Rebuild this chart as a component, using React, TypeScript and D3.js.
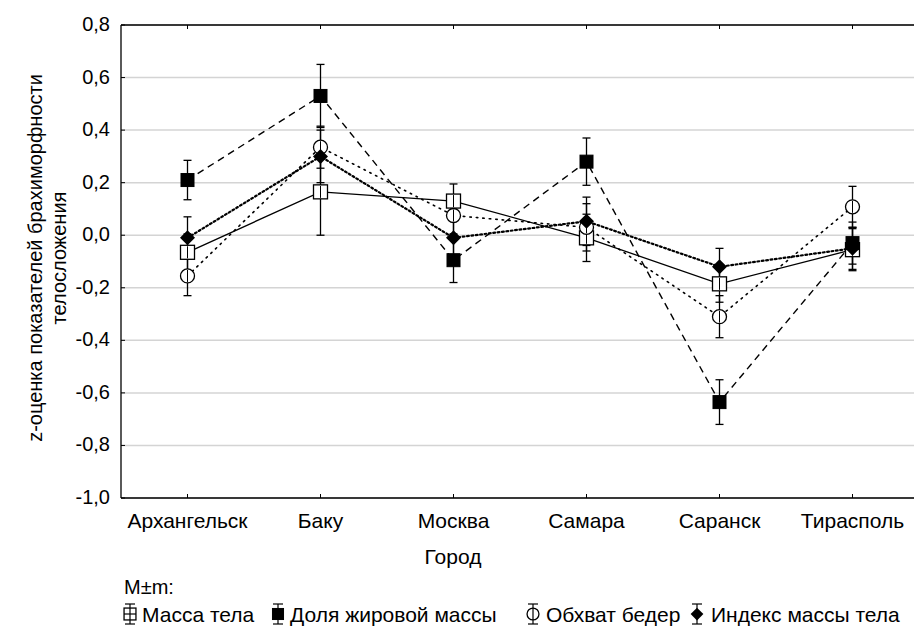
import React from "react";
import * as d3 from "d3";

const cities = ["Архангельск", "Баку", "Москва", "Самара", "Саранск", "Тирасполь"];
const yTicks = [0.8, 0.6, 0.4, 0.2, 0.0, -0.2, -0.4, -0.6, -0.8, -1.0];

const massaMean = [-0.065, 0.165, 0.13, -0.01, -0.185, -0.055];
const massaSE = [0.07, 0.165, 0.065, 0.09, 0.07, 0.08];
const dolyaMean = [0.21, 0.53, -0.095, 0.28, -0.635, -0.03];
const dolyaSE = [0.075, 0.12, 0.085, 0.09, 0.085, 0.08];
const obkhvatMean = [-0.155, 0.335, 0.075, 0.03, -0.31, 0.108];
const obkhvatSE = [0.075, 0.08, 0.07, 0.09, 0.08, 0.078];
const indeksMean = [-0.01, 0.3, -0.01, 0.053, -0.12, -0.05];
const indeksSE = [0.08, 0.1, 0.07, 0.092, 0.07, 0.08];

const seriesNames = ["Масса тела", "Доля жировой массы", "Обхват бедер", "Индекс массы тела"];

const W = 914, H = 626;
const left = 121, top = 25, bottom = 498;
const step = 133;
const right = left + step * 6;

const FONT = "Liberation Sans";

type Marker = "osq" | "fsq" | "circ" | "diam";

function MarkerShape({ kind, x, y, s = 1 }: { kind: Marker; x: number; y: number; s?: number }) {
  if (kind === "osq") {
    const h = 7 * s;
    return <rect x={x - h} y={y - h} width={2 * h} height={2 * h} fill="white" stroke="black" strokeWidth={1.3} />;
  }
  if (kind === "fsq") {
    const h = 6.5 * s;
    return <rect x={x - h} y={y - h} width={2 * h} height={2 * h} fill="black" stroke="black" strokeWidth={1} />;
  }
  if (kind === "circ") {
    return <circle cx={x} cy={y} r={7 * s} fill="white" stroke="black" strokeWidth={1.3} />;
  }
  const h = 7.5 * s;
  return <path d={`M${x},${y - h}L${x + h},${y}L${x},${y + h}L${x - h},${y}Z`} fill="black" />;
}

export default function App() {
  const x = d3.scalePoint<string>().domain(cities).range([left, right]).padding(0.5);
  const y = d3.scaleLinear().domain([-1.0, 0.8]).range([bottom, top]);
  const fmt = (v: number) => d3.format(".1f")(v).replace(".", ",").replace("−", "-");

  const series: { mean: number[]; se: number[]; marker: Marker; dash: string; width: number; cap: string }[] = [
    { mean: massaMean, se: massaSE, marker: "osq", dash: "none", width: 1.3, cap: "butt" },
    { mean: dolyaMean, se: dolyaSE, marker: "fsq", dash: "7,5", width: 1.4, cap: "butt" },
    { mean: obkhvatMean, se: obkhvatSE, marker: "circ", dash: "1.5,5", width: 1.6, cap: "round" },
    { mean: indeksMean, se: indeksSE, marker: "diam", dash: "1.8,2.6", width: 2.2, cap: "round" },
  ];

  const line = d3
    .line<number>()
    .x((_, i) => x(cities[i]) as number)
    .y((v) => y(v));

  const legendItems = [
    { m: "osq" as Marker, x: 130, tx: 142 },
    { m: "fsq" as Marker, x: 278, tx: 290 },
    { m: "circ" as Marker, x: 533, tx: 546 },
    { m: "diam" as Marker, x: 697, tx: 711 },
  ];

  const ts = { fontFamily: FONT };

  return (
    <div style={{ position: "absolute", left: 0, top: 0, width: W, height: H }}>
      <svg width={W} height={H}>
        {yTicks.map((t) => (
          <line key={"g" + t} x1={left} x2={right} y1={y(t)} y2={y(t)} stroke="#d4d4d4" strokeWidth={1.5} />
        ))}
        <line x1={left} x2={right} y1={top} y2={top} stroke="black" strokeWidth={1.3} />
        <line x1={left} x2={right} y1={bottom} y2={bottom} stroke="black" strokeWidth={1.3} />
        <line x1={left} x2={left} y1={top} y2={bottom} stroke="black" strokeWidth={1.3} />
        {cities.map((c) => (
          <g key={"t" + c}>
            <line x1={x(c)} x2={x(c)} y1={top} y2={top + 4} stroke="black" />
            <line x1={x(c)} x2={x(c)} y1={bottom} y2={bottom - 4} stroke="black" />
          </g>
        ))}
        {yTicks.map((t) => (
          <line key={"yt" + t} x1={left} x2={left + 4} y1={y(t)} y2={y(t)} stroke="black" />
        ))}
        {yTicks.map((t) => (
          <text key={"yl" + t} x={110} y={y(t) + 6} textAnchor="end" fontSize={20} style={ts}>
            {fmt(t)}
          </text>
        ))}
        {cities.map((c) => (
          <text key={"xl" + c} x={x(c)} y={528} textAnchor="middle" fontSize={21} style={ts}>
            {c}
          </text>
        ))}
        <text x={453} y={564} textAnchor="middle" fontSize={21} style={ts}>
          Город
        </text>
        <g transform="translate(42,258) rotate(-90)">
          <text x={0} y={0} textAnchor="middle" fontSize={20} style={ts}>
            z-оценка показателей брахиморфности
          </text>
          <text x={0} y={24} textAnchor="middle" fontSize={20} style={ts}>
            телосложения
          </text>
        </g>
        {series.map((s, k) => (
          <path
            key={"l" + k}
            d={line(s.mean) || ""}
            fill="none"
            stroke="black"
            strokeWidth={s.width}
            strokeDasharray={s.dash}
            strokeLinecap={s.cap as any}
          />
        ))}
        {series.map((s, k) =>
          s.mean.map((v, i) => {
            const cx = x(cities[i]) as number;
            return (
              <g key={"e" + k + "-" + i} stroke="black" strokeWidth={1.3}>
                <line x1={cx} x2={cx} y1={y(v + s.se[i])} y2={y(v - s.se[i])} />
                <line x1={cx - 4} x2={cx + 4} y1={y(v + s.se[i])} y2={y(v + s.se[i])} />
                <line x1={cx - 4} x2={cx + 4} y1={y(v - s.se[i])} y2={y(v - s.se[i])} />
              </g>
            );
          })
        )}
        {series.map((s, k) =>
          s.mean.map((v, i) => {
            const cx = x(cities[i]) as number;
            return (
              <g key={"m" + k + "-" + i}>
                <MarkerShape kind={s.marker} x={cx} y={y(v)} />
                <line x1={cx} x2={cx} y1={y(v) - 6} y2={y(v) + 6} stroke="black" strokeWidth={1} />
              </g>
            );
          })
        )}
        <text x={124} y={594} fontSize={20} style={ts}>
          M±m:
        </text>
        {legendItems.map((it, i) => (
          <g key={"lg" + i}>
            <line x1={it.x} x2={it.x} y1={604} y2={624} stroke="black" strokeWidth={1.2} />
            <line x1={it.x - 5} x2={it.x + 5} y1={604} y2={604} stroke="black" strokeWidth={1.2} />
            <line x1={it.x - 5} x2={it.x + 5} y1={624} y2={624} stroke="black" strokeWidth={1.2} />
            <MarkerShape kind={it.m} x={it.x} y={614} s={0.85} />
            {it.m === "osq" && (
              <>
                <line x1={it.x} x2={it.x} y1={608} y2={620} stroke="black" strokeWidth={1.2} />
                <line x1={it.x - 6} x2={it.x + 6} y1={614} y2={614} stroke="black" strokeWidth={1.2} />
              </>
            )}
            {it.m === "circ" && <line x1={it.x} x2={it.x} y1={608} y2={620} stroke="black" strokeWidth={1.2} />}
            <text x={it.tx} y={622} fontSize={21} style={ts}>
              {seriesNames[i]}
            </text>
          </g>
        ))}
      </svg>
    </div>
  );
}
